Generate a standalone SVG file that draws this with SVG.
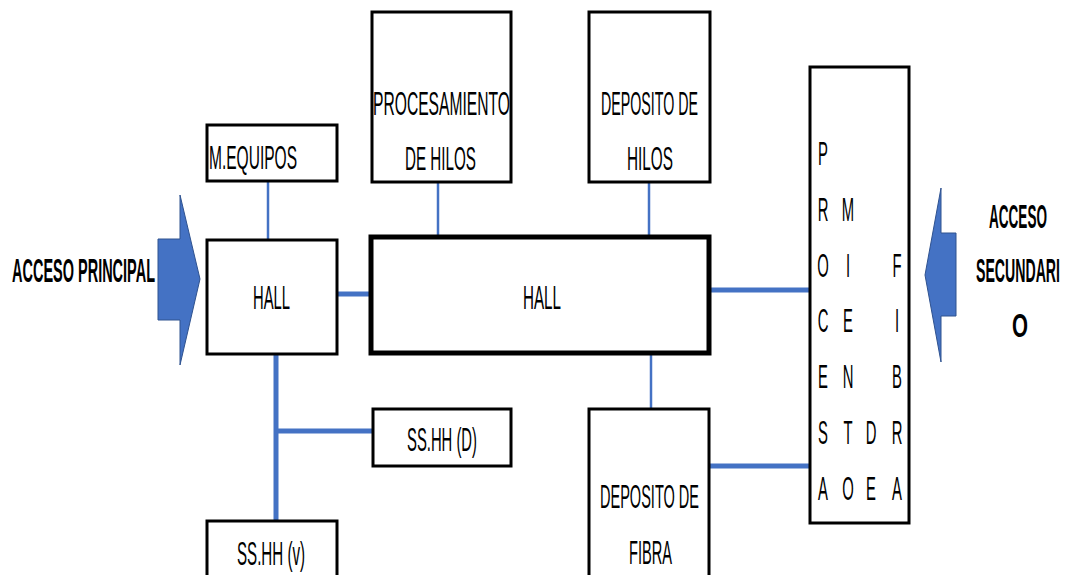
<svg xmlns="http://www.w3.org/2000/svg" width="1066" height="575" viewBox="0 0 1066 575">
<style>
.box{fill:#fff;stroke:#000;stroke-width:3}
.big{fill:#fff;stroke:#000;stroke-width:5}
.t{font-family:"Liberation Sans",Arial,sans-serif;font-size:33px;fill:#000}
.b{font-family:"Liberation Sans",Arial,sans-serif;font-size:34px;font-weight:bold;fill:#000}
.thin{stroke:#4472C4;stroke-width:2.5;fill:none}
.thick{stroke:#4472C4;stroke-width:5;fill:none}
.arrow{fill:#4472C4;stroke:#2F528F;stroke-width:1}
</style>
<rect width="1066" height="575" fill="#fff"/>
<g id="connectors">
<line class="thin" x1="268" y1="181" x2="268" y2="240"/>
<line class="thin" x1="438" y1="182" x2="438" y2="236"/>
<line class="thin" x1="649" y1="182" x2="649" y2="236"/>
<line class="thin" x1="651" y1="354" x2="651" y2="409"/>
<line class="thick" x1="336" y1="294" x2="371" y2="294"/>
<line class="thick" x1="276" y1="354" x2="276" y2="521"/>
<line class="thick" x1="274" y1="431" x2="373" y2="431"/>
<line class="thick" x1="710" y1="290" x2="810" y2="290"/>
<line class="thick" x1="709" y1="466" x2="810" y2="466"/>
</g>
<g id="acceso-principal">
<polygon class="arrow" points="158,239 180,239 180,195 200,279 180,365 180,320 158,320"/>
<text class="b" x="12" y="282" textLength="143" lengthAdjust="spacingAndGlyphs">ACCESO PRINCIPAL</text>
</g>
<g id="acceso-secundario">
<polygon class="arrow" points="956,233 941,233 941,188 925,275 941,362 941,316 956,316"/>
<text class="b" x="1018" y="228" text-anchor="middle" textLength="58" lengthAdjust="spacingAndGlyphs">ACCESO</text>
<text class="b" x="1018" y="282" text-anchor="middle" textLength="84" lengthAdjust="spacingAndGlyphs">SECUNDARI</text>
<text class="b" x="1020" y="337" text-anchor="middle" textLength="16" lengthAdjust="spacingAndGlyphs">O</text>
</g>
<g id="m-equipos">
<rect class="box" x="207" y="125" width="130" height="56"/>
<text class="t" x="209" y="169" textLength="88" lengthAdjust="spacingAndGlyphs">M.EQUIPOS</text>
</g>
<g id="hall-small">
<rect class="box" x="207" y="240" width="130" height="114"/>
<text class="t" x="253" y="309" textLength="37" lengthAdjust="spacingAndGlyphs">HALL</text>
</g>
<g id="procesamiento">
<rect class="box" x="372" y="12" width="139" height="170"/>
<text class="t" x="373" y="115" textLength="137" lengthAdjust="spacingAndGlyphs">PROCESAMIENTO</text>
<text class="t" x="405" y="170" textLength="71" lengthAdjust="spacingAndGlyphs">DE HILOS</text>
</g>
<g id="deposito-hilos">
<rect class="box" x="589" y="12" width="121" height="170"/>
<text class="t" x="601" y="115" textLength="97" lengthAdjust="spacingAndGlyphs">DEPOSITO DE</text>
<text class="t" x="627" y="170" textLength="46" lengthAdjust="spacingAndGlyphs">HILOS</text>
</g>
<g id="hall-big">
<rect class="big" x="371" y="237" width="338" height="116"/>
<text class="t" x="523" y="309" textLength="38" lengthAdjust="spacingAndGlyphs">HALL</text>
</g>
<g id="sshh-d">
<rect class="box" x="373" y="409" width="138" height="57"/>
<text class="t" x="407" y="451" textLength="70" lengthAdjust="spacingAndGlyphs">SS.HH (D)</text>
</g>
<g id="sshh-v">
<rect class="box" x="207" y="521" width="130" height="70"/>
<text class="t" x="237" y="565" textLength="68" lengthAdjust="spacingAndGlyphs">SS.HH (v)</text>
</g>
<g id="deposito-fibra">
<rect class="box" x="589" y="409" width="120" height="180"/>
<text class="t" x="600" y="508" textLength="99" lengthAdjust="spacingAndGlyphs">DEPOSITO DE</text>
<text class="t" x="629" y="564" textLength="43" lengthAdjust="spacingAndGlyphs">FIBRA</text>
</g>
<g id="procesamiento-mientras-de-fibra">
<rect class="box" x="810" y="67" width="99" height="456"/>
<text class="t" text-anchor="middle" transform="translate(823,0) scale(0.45,1)"><tspan x="0" y="165">P</tspan><tspan x="0" y="221">R</tspan><tspan x="0" y="277">O</tspan><tspan x="0" y="332">C</tspan><tspan x="0" y="388">E</tspan><tspan x="0" y="444">S</tspan><tspan x="0" y="500">A</tspan></text>
<text class="t" text-anchor="middle" transform="translate(848,0) scale(0.45,1)"><tspan x="0" y="221">M</tspan><tspan x="0" y="277">I</tspan><tspan x="0" y="332">E</tspan><tspan x="0" y="388">N</tspan><tspan x="0" y="444">T</tspan><tspan x="0" y="500">O</tspan></text>
<text class="t" text-anchor="middle" transform="translate(871,0) scale(0.45,1)"><tspan x="0" y="444">D</tspan><tspan x="0" y="500">E</tspan></text>
<text class="t" text-anchor="middle" transform="translate(897,0) scale(0.45,1)"><tspan x="0" y="277">F</tspan><tspan x="0" y="332">I</tspan><tspan x="0" y="388">B</tspan><tspan x="0" y="444">R</tspan><tspan x="0" y="500">A</tspan></text>
</g>
</svg>
